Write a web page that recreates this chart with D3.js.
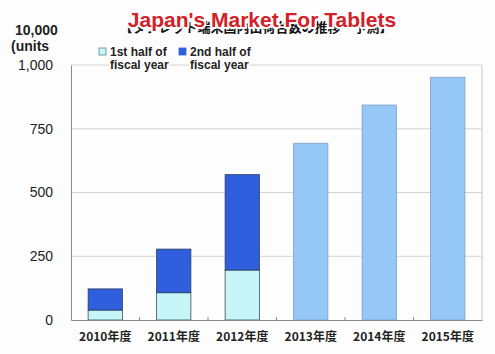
<!doctype html>
<html lang="en">
<head>
<meta charset="utf-8">
<title>Japan's Market For Tablets</title>
<script src="https://cdn.jsdelivr.net/npm/d3@7"></script>
<style>
    body { margin: 0; background: #fdfdfd; }
    svg { font-family: "Liberation Sans", Arial, sans-serif; }
    .outlined { paint-order: stroke; stroke: #fff; stroke-width: 3px; stroke-linejoin: round; }
</style>
</head>
<body>
<svg width="495" height="354" id="chart"></svg>
<script>
    const years = ["2010年度", "2011年度", "2012年度", "2013年度", "2014年度", "2015年度"];
    const firstHalf = [39, 107, 196, null, null, null];
    const secondHalf = [83, 171, 374, null, null, null];
    const forecast = [null, null, null, 693, 843, 952];
    const yTicks = [0, 250, 500, 750, 1000];

    const svg = d3.select("#chart");
    const margin = {top: 65, right: 13, bottom: 34, left: 71};
    const width = +svg.attr("width") - margin.left - margin.right;
    const height = +svg.attr("height") - margin.top - margin.bottom;

    const g = svg.append("g")
        .attr("transform", "translate(" + margin.left + "," + margin.top + ")");

    const x = d3.scaleBand()
        .domain(years)
        .range([0, width])
        .paddingInner(0.5)
        .paddingOuter(0.25);

    const y = d3.scaleLinear()
        .domain([0, 1000])
        .range([height, 0]);

    // grid
    g.append("g")
        .selectAll("line")
        .data(yTicks.slice(1))
        .enter().append("line")
        .attr("x1", 0).attr("x2", width)
        .attr("y1", d => y(d)).attr("y2", d => y(d))
        .style("stroke", "#d4d4d4");

    // right frame
    g.append("line")
        .attr("x1", width).attr("x2", width)
        .attr("y1", 0).attr("y2", height)
        .style("stroke", "#c8c8c8");

    // stacked bars
    const past = years.map((yr, i) => ({yr: yr, a: firstHalf[i], b: secondHalf[i]}))
        .filter(d => d.a !== null);

    g.append("g").selectAll("rect")
        .data(past)
        .enter().append("rect")
        .attr("x", d => x(d.yr))
        .attr("width", x.bandwidth())
        .attr("y", d => y(d.a))
        .attr("height", d => y(0) - y(d.a))
        .style("fill", "#c6f6f8")
        .style("stroke", "#3a4a5a")
        .style("stroke-width", 0.8);

    g.append("g").selectAll("rect")
        .data(past)
        .enter().append("rect")
        .attr("x", d => x(d.yr))
        .attr("width", x.bandwidth())
        .attr("y", d => y(d.a + d.b))
        .attr("height", d => y(d.a) - y(d.a + d.b))
        .style("fill", "#2f5fdc")
        .style("stroke", "#2a3a60")
        .style("stroke-width", 0.8);

    // forecast bars
    const future = years.map((yr, i) => ({yr: yr, v: forecast[i]})).filter(d => d.v !== null);
    g.append("g").selectAll("rect")
        .data(future)
        .enter().append("rect")
        .attr("x", d => x(d.yr))
        .attr("width", x.bandwidth())
        .attr("y", d => y(d.v))
        .attr("height", d => y(0) - y(d.v))
        .style("fill", "#95c8f6")
        .style("stroke", "#7a9cc0")
        .style("stroke-width", 0.8);

    // y axis
    const yAxis = g.append("g")
        .call(d3.axisLeft(y).tickValues(yTicks).tickSize(0).tickPadding(18)
            .tickFormat(d3.format(",")));
    yAxis.select(".domain").style("stroke", "#888");
    yAxis.selectAll("text").style("font-size", "14px").style("fill", "#222");

    // x axis
    const xAxis = g.append("g")
        .attr("transform", "translate(0," + height + ")")
        .call(d3.axisBottom(x).tickSize(0).tickPadding(12));
    xAxis.select(".domain").style("stroke", "#888");
    xAxis.selectAll("text").style("font-size", "12px").style("fill", "#222")
        .style("font-weight", "bold").style("font-family", "'Noto Sans CJK JP', sans-serif");

    // small separator ticks between categories
    g.append("g").selectAll("line")
        .data(years.slice(1))
        .enter().append("line")
        .attr("x1", d => x(d) - x.step() * x.paddingInner() / 2)
        .attr("x2", d => x(d) - x.step() * x.paddingInner() / 2)
        .attr("y1", height - 3).attr("y2", height)
        .style("stroke", "#888");

    // unit label
    svg.append("text").attr("class", "outlined")
        .attr("x", 15).attr("y", 35)
        .style("font-size", "14px").style("font-weight", "bold").style("fill", "#222")
        .text("10,000");
    svg.append("text").attr("class", "outlined")
        .attr("x", 11).attr("y", 51)
        .style("font-size", "14px").style("font-weight", "bold").style("fill", "#222")
        .text("(units");

    // legend
    const legend = [
        {label: ["1st half of", "fiscal year"], fill: "#c6f6f8", stroke: "#5a8a90", x: 99},
        {label: ["2nd half of", "fiscal year"], fill: "#2f5fdc", stroke: "#2f5fdc", x: 179}
    ];
    const lg = svg.append("g").selectAll("g")
        .data(legend)
        .enter().append("g")
        .attr("transform", d => "translate(" + d.x + ",45)");
    lg.append("rect")
        .attr("x", 0).attr("y", 3).attr("width", 7).attr("height", 7)
        .style("fill", d => d.fill).style("stroke", d => d.stroke).style("stroke-width", 0.8);
    lg.append("text").attr("class", "outlined")
        .attr("x", 11).attr("y", 11)
        .style("font-size", "12px").style("font-weight", "bold").style("fill", "#222")
        .text(d => d.label[0]);
    lg.append("text").attr("class", "outlined")
        .attr("x", 11).attr("y", 24)
        .style("font-size", "12px").style("font-weight", "bold").style("fill", "#222")
        .text(d => d.label[1]);

    // title, with the original Japanese heading underneath
    svg.append("text")
        .attr("x", 256).attr("y", 32)
        .style("text-anchor", "middle")
        .style("font-size", "13px").style("font-weight", "bold").style("fill", "#111")
        .style("font-family", "'Noto Sans CJK JP', sans-serif")
        .text("【タブレット端末国内出荷台数の推移・予測】");
    svg.append("text")
        .attr("x", 262).attr("y", 27)
        .style("text-anchor", "middle")
        .style("font-size", "21px").style("font-weight", "bold").style("fill", "#d42027")
        .style("paint-order", "stroke").style("stroke", "#fff").style("stroke-width", "4px")
        .style("stroke-linejoin", "round")
        .text("Japan's Market For Tablets");
</script>
</body>
</html>
